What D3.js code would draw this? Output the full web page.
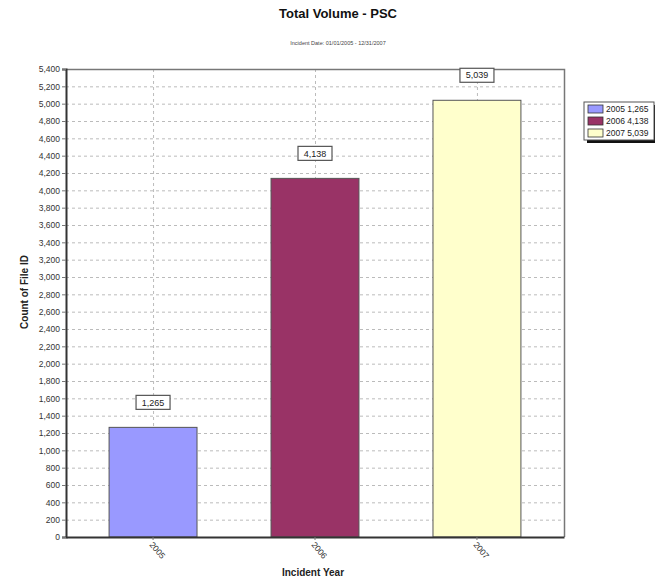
<!DOCTYPE html>
<html>
<head>
<meta charset="utf-8">
<script src="https://cdn.jsdelivr.net/npm/d3@7"></script>
<style>
  body { margin: 0; background: #fff; }
  svg { font-family: Arial, "Liberation Sans", sans-serif; }
</style>
</head>
<body>
<div id="app"></div>
<script>
;(() => {
  // data
  const years = ['2005', '2006', '2007']
  const counts = [1265, 4138, 5039]
  const colors = ['#9999ff', '#993366', '#ffffcc']
  const yTicks = d3.range(0, 5401, 200)

  const fmt = d3.format(',')

  const svg = d3.select('#app').append('svg')
    .attr('width', 655).attr('height', 579)

  const left = 66, right = 564, top = 69, bottom = 537

  const x = d3.scaleBand().domain(years).range([left, right])
    .paddingInner(0.457).paddingOuter(0.266)
  const y = d3.scaleLinear().domain([0, 5400]).range([bottom, top])

  // titles
  svg.append('text').attr('x', 338).attr('y', 18).attr('text-anchor', 'middle')
    .attr('font-size', 13).attr('font-weight', 'bold').attr('fill', '#111')
    .text('Total Volume - PSC')
  svg.append('text').attr('x', 338).attr('y', 45).attr('text-anchor', 'middle')
    .attr('font-size', 5.5).attr('fill', '#444')
    .text('Incident Date: 01/01/2005 - 12/31/2007')

  // grid
  const grid = svg.append('g').attr('stroke', '#bbb').attr('stroke-dasharray', '3,3')
  grid.selectAll('.h').data(yTicks.filter(d => d > 0)).join('line')
    .attr('x1', left).attr('x2', right)
    .attr('y1', d => y(d) + 0.5).attr('y2', d => y(d) + 0.5)
  grid.selectAll('.v').data(years).join('line')
    .attr('x1', d => x(d) + x.bandwidth() / 2 + 0.5).attr('x2', d => x(d) + x.bandwidth() / 2 + 0.5)
    .attr('y1', top).attr('y2', bottom)

  // plot border top/right
  svg.append('path')
    .attr('d', `M${left},${top + 0.5}H${right + 0.5}V${bottom}`)
    .attr('fill', 'none').attr('stroke', '#777').attr('stroke-width', 1.5)

  // bars
  svg.append('g').selectAll('rect').data(years).join('rect')
    .attr('x', d => x(d)).attr('width', x.bandwidth())
    .attr('y', (d, i) => y(counts[i])).attr('height', (d, i) => bottom - y(counts[i]))
    .attr('fill', (d, i) => colors[i]).attr('stroke', '#555').attr('stroke-width', 1)

  // value labels
  const lab = svg.append('g').selectAll('g').data(years).join('g')
    .attr('transform', (d, i) => `translate(${x(d) + x.bandwidth() / 2},${y(counts[i]) - 25})`)
  lab.append('rect').attr('x', -17).attr('y', -7).attr('width', 34).attr('height', 14)
    .attr('fill', '#fff').attr('stroke', '#555').attr('stroke-width', 1.2)
  lab.append('text').attr('text-anchor', 'middle').attr('dy', '0.35em')
    .attr('font-size', 9).attr('fill', '#222')
    .text((d, i) => fmt(counts[i]))

  // y axis
  const yAxis = svg.append('g').attr('transform', `translate(${left},0)`)
    .call(d3.axisLeft(y).tickValues(yTicks).tickFormat(fmt).tickSize(4).tickPadding(2))
  yAxis.select('.domain').attr('stroke', '#333').attr('stroke-width', 2)
  yAxis.selectAll('.tick line').attr('stroke', '#777')
  yAxis.selectAll('text').attr('font-size', 8.5).attr('fill', '#333')
    .attr('font-family', 'Arial, "Liberation Sans", sans-serif')

  // x axis
  const xAxis = svg.append('g').attr('transform', `translate(0,${bottom})`)
    .call(d3.axisBottom(x).tickSize(3).tickSizeOuter(0))
  xAxis.select('.domain').attr('stroke', '#333').attr('stroke-width', 2)
  xAxis.selectAll('.tick line').attr('stroke', '#777')
  xAxis.selectAll('text').attr('font-size', 8.5).attr('fill', '#333')
    .attr('font-family', 'Arial, "Liberation Sans", sans-serif')
    .attr('text-anchor', 'start').attr('dy', 0).attr('y', 0)
    .attr('transform', 'translate(-4,8) rotate(50)')

  // axis titles
  svg.append('text').attr('x', 313).attr('y', 576).attr('text-anchor', 'middle')
    .attr('font-size', 10).attr('font-weight', 'bold').attr('fill', '#222')
    .text('Incident Year')
  svg.append('text').attr('transform', 'translate(28,292) rotate(-90)')
    .attr('text-anchor', 'middle')
    .attr('font-size', 10).attr('font-weight', 'bold').attr('fill', '#222')
    .text('Count of File ID')

  // legend
  const lg = svg.append('g').attr('transform', 'translate(584,102)')
  lg.append('rect').attr('x', 3).attr('y', 3).attr('width', 70).attr('height', 38).attr('fill', '#111')
  lg.append('rect').attr('width', 70).attr('height', 38)
    .attr('fill', '#fff').attr('stroke', '#555')
  const li = lg.selectAll('.item').data(years).join('g')
    .attr('transform', (d, i) => `translate(4,${7 + i * 12})`)
  li.append('rect').attr('x', 0).attr('y', -4).attr('width', 15).attr('height', 8)
    .attr('fill', (d, i) => colors[i]).attr('stroke', '#333').attr('stroke-width', 0.8)
  li.append('text').attr('x', 18).attr('dy', '0.35em').attr('font-size', 8.5).attr('fill', '#222')
    .text((d, i) => `${d} ${fmt(counts[i])}`)
})()
</script>
</body>
</html>
